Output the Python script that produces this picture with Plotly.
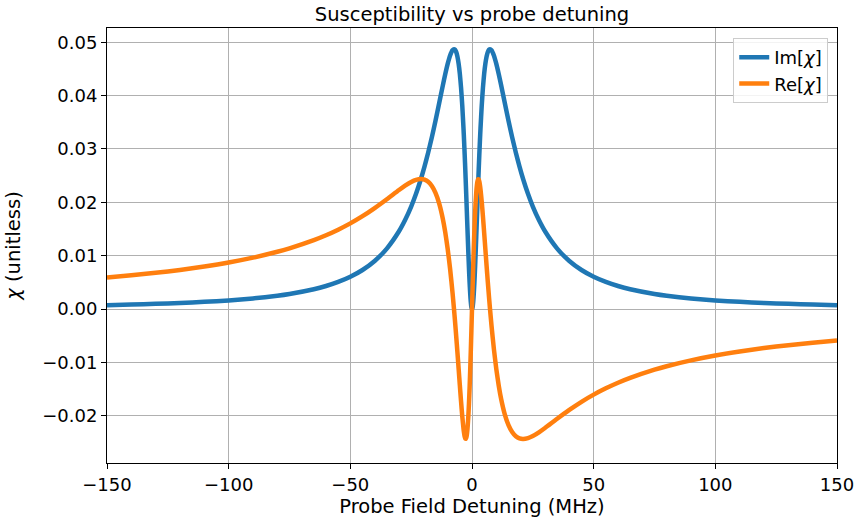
import plotly.graph_objects as go

DETUNING = [-150, -140, -130, -120, -110, -100, -90, -80, -75, -65, -60, -55, -50, -45, -40,
            -35, -30, -27.5, -25, -23, -21, -19.5, -18, -16.5, -15, -13.5, -12, -11, -10, -9,
            -8, -7.4, -7, -6.5, -6, -5.5, -5, -4.5, -4, -3.5, -3.25, -3, -2.75, -2.5, -2.25,
            -2, -1.75, -1.5, -1.25, -1, -0.75, -0.5, -0.25, 0,
            0.25, 0.5, 0.75, 1, 1.25, 1.5, 1.75, 2, 2.25, 2.5, 2.75, 3, 3.25, 3.5, 4, 4.5,
            5, 5.5, 6, 6.5, 7, 7.4, 8, 9, 10, 11, 12, 13.5, 15, 16.5, 18, 19.5, 21, 23, 25,
            27.5, 30, 35, 40, 45, 50, 55, 60, 65, 75, 80, 90, 100, 110, 120, 130, 140, 150]

IM_CHI = [0.000725, 0.000831, 0.000963, 0.001127, 0.001337, 0.001612, 0.001980, 0.002487,
          0.002816, 0.003701, 0.004305, 0.005066, 0.006039, 0.007310, 0.009006, 0.011321,
          0.014562, 0.01667, 0.019199, 0.02159, 0.02436, 0.02672, 0.02933, 0.03219, 0.03528,
          0.03855, 0.04187, 0.04399, 0.04593, 0.04751, 0.04851, 0.04870, 0.04860, 0.04817,
          0.04733, 0.04599, 0.04408, 0.04148, 0.03811, 0.03390, 0.03147, 0.02884, 0.02602,
          0.02304, 0.01993, 0.01676, 0.01360, 0.01053, 0.00766, 0.00510, 0.002961, 0.001347,
          0.000342, 0.0,
          0.000342, 0.001347, 0.002961, 0.00510, 0.00766, 0.01053, 0.01360, 0.01676, 0.01993,
          0.02304, 0.02602, 0.02884, 0.03147, 0.03390, 0.03811, 0.04148, 0.04408, 0.04599,
          0.04733, 0.04817, 0.04860, 0.04870, 0.04851, 0.04751, 0.04593, 0.04399, 0.04187,
          0.03855, 0.03528, 0.03219, 0.02933, 0.02672, 0.02436, 0.02159, 0.019199, 0.01667,
          0.014562, 0.011321, 0.009006, 0.007310, 0.006039, 0.005066, 0.004305, 0.003701,
          0.002816, 0.002487, 0.001980, 0.001612, 0.001337, 0.001127, 0.000963, 0.000831,
          0.000725]

RE_CHI = [0.00590, 0.00631, 0.00678, 0.00732, 0.00796, 0.00871, 0.00962, 0.01072, 0.01137,
          0.01291, 0.01382, 0.01487, 0.01605, 0.01739, 0.01891, 0.02057, 0.02230, 0.02311,
          0.02380, 0.02419, 0.02435, 0.02424, 0.02384, 0.02305, 0.02176, 0.01978, 0.01691,
          0.01439, 0.01128, 0.00752, 0.00303, 0.0, -0.00219, -0.00505, -0.00806, -0.01116,
          -0.01428, -0.01731, -0.02009, -0.02240, -0.02329, -0.02393, -0.02429, -0.02431,
          -0.02395, -0.02314, -0.02185, -0.02005, -0.01773, -0.01491, -0.01164, -0.00799,
          -0.00406, 0.0,
          0.00406, 0.00799, 0.01164, 0.01491, 0.01773, 0.02005, 0.02185, 0.02314, 0.02395,
          0.02431, 0.02429, 0.02393, 0.02329, 0.02240, 0.02009, 0.01731, 0.01428, 0.01116,
          0.00806, 0.00505, 0.00219, 0.0, -0.00303, -0.00752, -0.01128, -0.01439, -0.01691,
          -0.01978, -0.02176, -0.02305, -0.02384, -0.02424, -0.02435, -0.02419, -0.02380,
          -0.02311, -0.02230, -0.02057, -0.01891, -0.01739, -0.01605, -0.01487, -0.01382,
          -0.01291, -0.01137, -0.01072, -0.00962, -0.00871, -0.00796, -0.00732, -0.00678,
          -0.00631, -0.00590]

X_TICKS = [-150, -100, -50, 0, 50, 100, 150]
SERIES_NAMES = ["Im[<i>χ</i>]", "Re[<i>χ</i>]"]
COLORS = ["#1f77b4", "#ff7f0e"]

fig = go.Figure()
for name, vals, col in zip(SERIES_NAMES, [IM_CHI, RE_CHI], COLORS):
    fig.add_trace(go.Scatter(x=DETUNING, y=vals, mode="lines", name=name,
                             line=dict(color=col, width=4.5, shape="spline", smoothing=0.6)))

axis_common = dict(showgrid=True, gridcolor="#b0b0b0", gridwidth=1, zeroline=False,
                   showline=True, linecolor="black", linewidth=1, mirror=True,
                   ticks="outside", ticklen=5, tickcolor="black", automargin=False,
                   tickfont=dict(size=18, color="black"))

fig.update_layout(
    width=857, height=521,
    margin=dict(l=107, r=20, t=28, b=58),
    plot_bgcolor="white", paper_bgcolor="white",
    font=dict(family="DejaVu Sans", size=18, color="black"),
    title=dict(text="Susceptibility vs probe detuning", x=0.5, xref="paper", xanchor="center",
               y=1 - 14 / 521, yref="container", yanchor="middle",
               font=dict(size=19.5, color="black")),
    xaxis=dict(range=[-150, 150], tickvals=X_TICKS,
               title=dict(text="Probe Field Detuning (MHz)", standoff=4, font=dict(size=19.5)),
               **axis_common),
    yaxis=dict(range=[-0.02886, 0.05266], tick0=0, dtick=0.01, tickformat=".2f",
               title=dict(text="<i>χ</i> (unitless)", standoff=16, font=dict(size=19.5)),
               **axis_common),
    legend=dict(x=0.988, y=0.977, xanchor="right", yanchor="top",
                bgcolor="rgba(255,255,255,0.85)", bordercolor="#cccccc", borderwidth=1,
                font=dict(size=18, color="black")),
    showlegend=True,
)

fig.write_html("out.html")
